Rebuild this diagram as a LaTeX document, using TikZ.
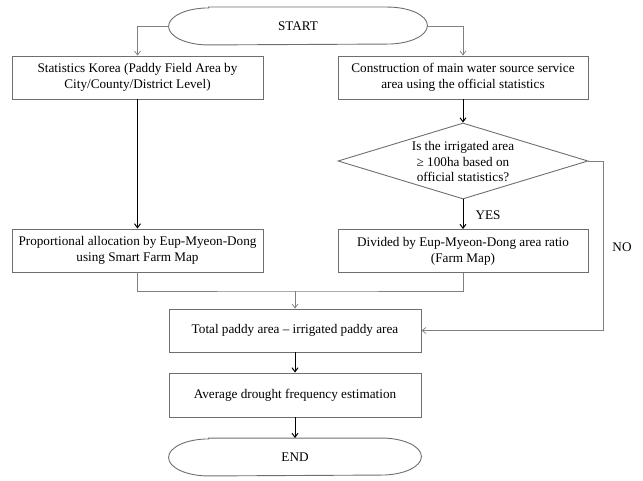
\documentclass[tikz,border=0pt]{standalone}
\usepackage{fontspec}
\setmainfont{Liberation Serif}
\usepackage{tikz}
\usetikzlibrary{arrows.meta,positioning,shapes.geometric}
\definecolor{fgray}{HTML}{808080}
\definecolor{fdark}{HTML}{6E6E6E}
\tikzset{
  box/.style={draw=fdark,fill=white,line width=0.9pt,align=center,font=\fontsize{13.2}{16}\selectfont,inner sep=2pt,minimum width=251pt,minimum height=43pt},
  term/.style={box,draw=none,fill=none,minimum height=37pt},
  tline/.style={draw=fdark,line width=0.9pt},
  decision/.style={draw=fdark,line width=0.9pt,diamond,minimum width=250pt,minimum height=76pt,inner sep=0pt},
  txt/.style={align=center,font=\fontsize{13.2}{15.5}\selectfont,inner sep=0pt},
  arr/.style={-{Straight Barb[length=4pt,width=6pt]},line width=1pt,draw=black},
  garr/.style={-{Straight Barb[length=4pt,width=6pt]},line width=0.7pt,draw=fgray},
  gline/.style={line width=0.7pt,draw=fgray},
}
\newcommand{\termline}[1]{%
  \draw[tline] ([xshift=40pt]#1.north west) -- ([xshift=-40pt]#1.north east)
    arc[start angle=90,end angle=-90,x radius=40pt,y radius=18.5pt]
    -- ([xshift=40pt]#1.south west)
    arc[start angle=270,end angle=90,x radius=40pt,y radius=18.5pt] -- cycle;}
\begin{document}
\begin{tikzpicture}[x=1pt,y=-1pt]
\useasboundingbox (0,0) rectangle (643,481);
\node[term,minimum width=258pt] (start) at (298,26) {START};
\node[box] (stat) at (137.5,77.5) {Statistics Korea (Paddy Field Area by\\City/County/District Level)};
\node[box,minimum width=250pt] (cons) at (463,77.5) {Construction of main water source service\\area using the official statistics};
\node[decision] (dec) at (463,161) {};
\node[txt] (dectext) at (463,162) {Is the irrigated area\\≥ 100ha based on\\official statistics?};
\node[box] (alloc) at (137.5,250.5) {Proportional allocation by Eup-Myeon-Dong\\using Smart Farm Map};
\node[box,minimum width=250pt] (divd) at (463,251) {Divided by Eup-Myeon-Dong area ratio\\(Farm Map)};
\node[box,minimum width=252pt] (total) at (295,330.5) {Total paddy area -- irrigated paddy area};
\node[box,minimum width=252pt,minimum height=44pt] (avg) at (295,395) {Average drought frequency estimation};
\node[term,minimum width=252pt] (end) at (295,457) {END};
\node[txt] (yes) at (488,215) {YES};
\node[txt] (no) at (622,247) {NO};
\coordinate (merge) at (295,291);
\coordinate (nocorner) at (603,161);
\termline{start}
\termline{end}

\draw[garr] (start.west) -| (stat.north);
\draw[garr] (start.east) -| (cons.north);
\draw[arr] (stat.south) -- (alloc.north);
\draw[arr] (cons.south) -- (dec.north);
\draw[arr] (dec.south) -- (divd.north);
\draw[garr] (dec.east) -- (nocorner) |- (total.east);
\draw[gline] (alloc.south) |- (merge) -| (divd.south);
\draw[garr] (merge) -- (total.north);
\draw[arr] (total.south) -- (avg.north);
\draw[arr] (avg.south) -- (end.north);
\end{tikzpicture}
\end{document}
